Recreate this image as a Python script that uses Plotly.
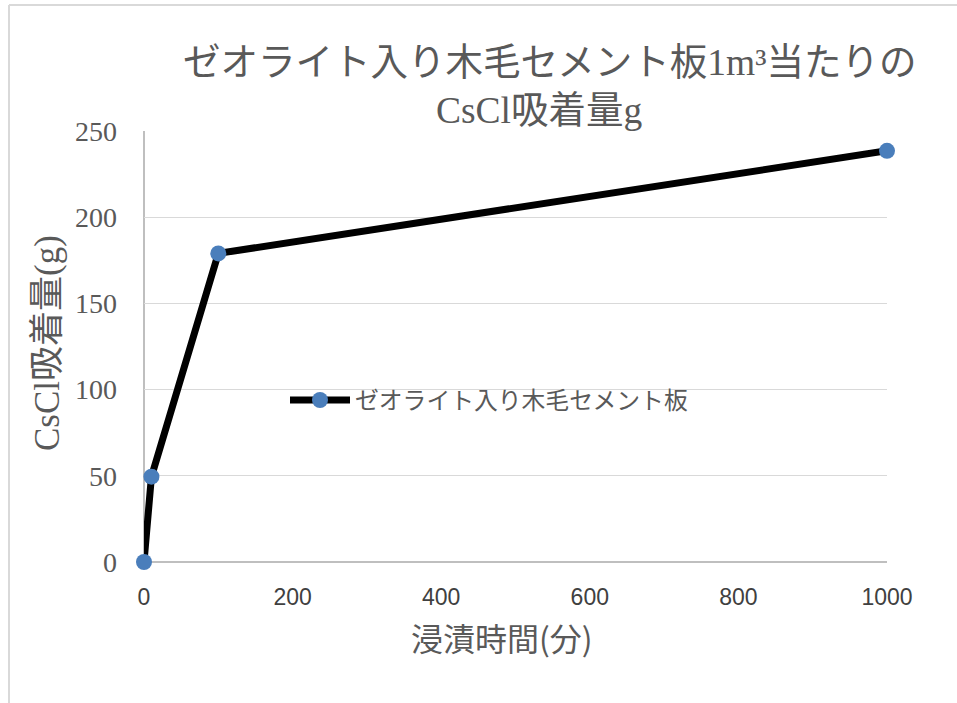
import plotly.graph_objects as go

# Data
x_minutes = [0, 10, 100, 1000]
y_cscl = [0, 49.5, 179, 238.5]
series_name = "ゼオライト入り木毛セメント板"
title_line1 = "ゼオライト入り木毛セメント板1m³当たりの"
title_line2 = "CsCl吸着量g"
x_title = "浸漬時間(分)"
y_title = "CsCl吸着量(g)"
x_ticks = [0, 200, 400, 600, 800, 1000]
y_ticks = [0, 50, 100, 150, 200, 250]

W, H = 957, 703
L, R, T, B = 144, 70, 131, 141
pw, ph = W - L - R, H - T - B

def px_x(p):
    return (p - L) / pw

def px_y(p):
    return (H - B - p) / ph

SERIF = "Liberation Serif, Noto Sans CJK JP, serif"
SANS = "Noto Sans CJK JP, sans-serif"
NARROW = "Liberation Sans Narrow, Arial Narrow, Liberation Sans, sans-serif"
GRAY = "#595959"

fig = go.Figure()
fig.add_trace(go.Scatter(
    x=x_minutes, y=y_cscl, mode="lines+markers", name=series_name,
    line=dict(color="black", width=7),
    marker=dict(color="#4a7ebb", size=16),
    cliponaxis=False,
))

fig.update_layout(
    width=W, height=H,
    margin=dict(l=L, r=R, t=T, b=B),
    paper_bgcolor="white", plot_bgcolor="white",
    showlegend=True,
    legend=dict(x=px_x(285), y=px_y(400), xanchor="left", yanchor="middle",
                font=dict(family=SANS, size=23.8, color=GRAY),
                bgcolor="rgba(0,0,0,0)", itemwidth=60),
    xaxis=dict(range=[0, 1000], tickvals=x_ticks, showgrid=False,
               zeroline=False, showline=False,
               tickfont=dict(family=NARROW, size=23, color="#404040"),
               ticklabelstandoff=19),
    yaxis=dict(range=[0, 250], tickvals=y_ticks, showgrid=True,
               gridcolor="#d9d9d9", gridwidth=1,
               zeroline=True, zerolinecolor="#bfbfbf", zerolinewidth=2,
               showline=False,
               tickfont=dict(family=SERIF, size=28, color=GRAY),
               ticklabelstandoff=26),
    shapes=[
        dict(type="line", xref="paper", yref="paper", x0=0, x1=0, y0=0, y1=1,
             line=dict(color="#bfbfbf", width=2), layer="below"),
        dict(type="line", xref="paper", yref="paper",
             x0=px_x(9), x1=px_x(9), y0=px_y(5), y1=px_y(720),
             line=dict(color="#d9d9d9", width=2)),
        dict(type="line", xref="paper", yref="paper",
             x0=px_x(9), x1=px_x(980), y0=px_y(5), y1=px_y(5),
             line=dict(color="#d9d9d9", width=2)),
    ],
    annotations=[
        dict(text=title_line1, xref="paper", yref="paper", x=px_x(549), y=px_y(62),
             xanchor="center", yanchor="middle", showarrow=False,
             font=dict(family=SERIF, size=37.5, color=GRAY)),
        dict(text=title_line2, xref="paper", yref="paper", x=px_x(539), y=px_y(110),
             xanchor="center", yanchor="middle", showarrow=False,
             font=dict(family=SERIF, size=37.5, color=GRAY)),
        dict(text=x_title, xref="paper", yref="paper", x=px_x(502), y=px_y(637),
             xanchor="center", yanchor="middle", showarrow=False,
             font=dict(family=SANS, size=32, color=GRAY)),
        dict(text=y_title, xref="paper", yref="paper", x=px_x(47), y=px_y(343),
             xanchor="center", yanchor="middle", showarrow=False, textangle=-90,
             font=dict(family=SERIF, size=35, color=GRAY)),
    ],
)

fig.write_html("out.html")
